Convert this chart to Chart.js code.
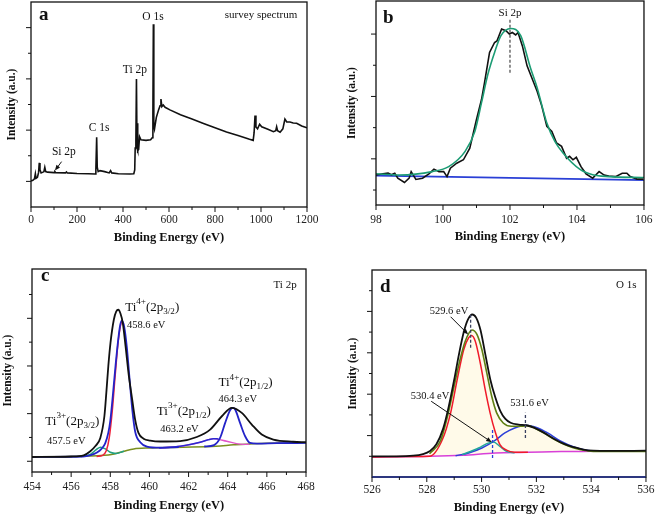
<!DOCTYPE html>
<html>
<head>
<meta charset="utf-8">
<script src="https://cdn.jsdelivr.net/npm/chart.js@4.4.1/dist/chart.umd.min.js"></script>
<style>
  body { margin: 0; background: #fff; }
  #fig { position: relative; width: 661px; height: 520px; }
  canvas { position: absolute; }
</style>
</head>
<body>
<div id="fig">
  <canvas id="pa" width="330" height="260" style="left:0;top:0"></canvas>
  <canvas id="pb" width="331" height="260" style="left:330px;top:0"></canvas>
  <canvas id="pc" width="330" height="260" style="left:0;top:260px"></canvas>
  <canvas id="pd" width="331" height="260" style="left:330px;top:260px"></canvas>
</div>
<script>
// ---- (a) survey spectrum: [binding energy eV, intensity a.u.]
const surveySpectrum = [
  [0,1.02],[8,1.04],[15,1.1],[19,1.3],[22,1.12],[28,1.16],[33,1.35],[36,1.72],[39,1.45],[44,1.33],
  [52,1.36],[56,1.38],[60,1.55],[64,1.38],[72,1.36],[100,1.34],[104,1.38],[108,1.34],[150,1.33],
  [154,1.37],[158,1.33],[200,1.31],[250,1.30],[279,1.29],[282,1.45],[285.5,2.72],[288,1.55],[292,1.38],
  [300,1.42],[320,1.38],[340,1.33],[346,1.42],[351,1.33],[380,1.30],[430,1.29],[447,1.30],[451,1.45],
  [453,2.3],[456,2.6],[458.5,4.99],[461,2.3],[463,3.27],[465,2.2],[468,2.25],[472,2.74],[478,2.62],
  [500,2.60],[520,2.62],[527,2.70],[530,3.6],[532,7.13],[534,3.2],[537,3.05],[545,3.5],[555,3.8],
  [561,3.95],[565,4.21],[569,3.92],[575,3.98],[583,3.89],[604,3.79],[650,3.60],[700,3.43],[750,3.26],
  [800,3.09],[850,2.93],[900,2.79],[950,2.64],[966,2.60],[970,2.9],[974,3.57],[978,3.12],[985,3.05],
  [994,3.23],[1003,3.13],[1030,3.03],[1054,2.94],[1064,2.98],[1068,3.13],[1072,2.98],[1083,2.92],
  [1095,3.05],[1104,3.43],[1112,3.32],[1126,3.32],[1140,3.28],[1155,3.27],[1177,3.16],[1196,3.10],[1200,3.09]
];
const aXMajor = [0, 200, 400, 600, 800, 1000, 1200];
const aXMinor = [100, 300, 500, 700, 900, 1100];
const aYMajor = [1, 3, 5, 7];
const aYMinor = [2, 4, 6];

// ---- (b) Si 2p
const siMeasured = [
  [98.00,0.48],[98.21,0.52],[98.36,0.54],[98.46,0.49],[98.56,0.54],[98.65,0.38],[98.85,0.24],[98.99,0.38],
  [99.05,0.59],[99.19,0.34],[99.39,0.38],[99.58,0.52],[99.73,0.67],[99.88,0.59],[100.02,0.59],[100.12,0.43],
  [100.22,0.70],[100.41,0.86],[100.61,0.97],[100.80,1.34],[101.00,2.26],[101.15,2.90],[101.24,3.44],
  [101.39,4.41],[101.54,4.73],[101.61,4.78],[101.75,5.16],[101.88,5.11],[101.98,5.00],[102.07,5.05],
  [102.17,4.97],[102.24,5.05],[102.37,4.62],[102.51,3.98],[102.71,3.44],[102.81,3.17],[102.95,2.69],
  [103.10,2.04],[103.25,1.88],[103.39,1.51],[103.54,1.40],[103.69,1.02],[103.78,1.08],[103.88,0.97],
  [103.98,1.05],[104.12,0.75],[104.27,0.52],[104.47,0.38],[104.56,0.48],[104.66,0.59],[104.81,0.48],
  [104.95,0.45],[105.15,0.43],[105.35,0.54],[105.49,0.54],[105.59,0.43],[105.79,0.35],[105.98,0.35]
];
const siFit = [
  [98.00,0.52],[98.70,0.48],[99.68,0.59],[100.17,0.75],[100.66,1.24],[100.95,1.88],[101.15,2.80],
  [101.34,3.71],[101.54,4.41],[101.73,4.95],[102.02,5.18],[102.32,4.95],[102.61,3.92],[102.81,3.28],
  [103.10,2.15],[103.34,1.56],[103.59,1.18],[104.08,0.67],[104.47,0.49],[104.95,0.43],[106.00,0.40]
];
const siBackground = [[98, 0.46], [106, 0.32]];
const bXMajor = [98, 100, 102, 104, 106];
const bXMinor = [99, 101, 103, 105];
const bYMajor = [1, 3, 5];
const bYMinor = [0, 2, 4];

// ---- (c) Ti 2p
const tiEnvelope = [
  [454,0.18],[456.0,0.20],[456.64,0.25],[456.98,0.42],[457.23,0.63],[457.49,0.98],[457.7,1.9],[457.8,2.9],
  [457.9,4.0],[458.01,4.97],[458.18,5.94],[458.30,6.28],[458.41,6.36],[458.52,6.2],[458.64,5.80],[458.78,4.83],
  [458.95,3.57],[459.12,2.59],[459.27,1.75],[459.44,1.19],[459.70,0.95],[460.04,0.87],[460.55,0.83],
  [461.57,0.85],[462.42,1.02],[463.10,1.33],[463.70,1.89],[464.21,2.24],[464.72,2.03],[465.23,1.54],
  [465.74,1.12],[466.33,0.91],[467.35,0.82],[468,0.80]
];
const ti4p32 = [
  [454,0.18],[456.6,0.20],[457.0,0.26],[457.32,0.37],[457.55,0.52],[457.74,0.75],[457.9,1.2],[458.0,1.7],
  [458.13,2.76],[458.27,4.03],[458.41,5.14],[458.51,5.73],[458.59,5.90],[458.71,5.65],[458.85,4.75],
  [458.98,3.5],[459.12,2.2],[459.27,1.25],[459.53,0.8],[459.87,0.62],[460.55,0.57],[461.5,0.59]
];
const ti4p12 = [
  [462.8,0.62],[463.3,0.68],[463.61,0.98],[463.87,1.61],[464.12,2.14],[464.26,2.24],[464.38,2.17],
  [464.63,1.61],[464.89,1.05],[465.14,0.77],[465.5,0.74],[466.5,0.76],[468,0.77]
];
const ti3p32 = [[456.5,0.20],[457.0,0.30],[457.3,0.50],[457.5,0.59],[457.75,0.52],[458.0,0.38],[458.3,0.33],[458.7,0.42]];
const ti3p32Red = [[457.3,0.20],[457.6,0.25],[457.8,0.45],[457.95,1.0],[458.1,2.1],[458.25,3.6],[458.4,5.0],[458.55,5.8],[458.6,5.88]];
const ti3p12 = [[460.5,0.56],[461.57,0.63],[462.59,0.80],[463.0,0.90],[463.27,0.95],[463.53,0.94]];
const ti3p12Tail = [[460.5,0.56],[461.6,0.63],[462.6,0.80],[463.27,0.95],[463.95,0.84],[464.63,0.72],[465.1,0.71]];
const tiShirley = [
  [454,0.18],[456.6,0.21],[457.5,0.24],[458.2,0.31],[458.7,0.42],[459.2,0.52],[460.0,0.56],[461.7,0.59],
  [463.4,0.63],[464.3,0.69],[465.3,0.74],[468,0.77]
];
const cXMajor = [454, 456, 458, 460, 462, 464, 466, 468];
const cXMinor = [455, 457, 459, 461, 463, 465, 467];
const cYMajor = [0, 2, 4, 6];
const cYMinor = [1, 3, 5, 7];

// ---- (d) O 1s
const oEnvelope = [
  [526.0,1.0],[526.9,1.0],[527.5,1.03],[527.86,1.11],[528.1,1.24],[528.35,1.58],[528.6,2.35],[528.8,3.4],
  [529.0,4.7],[529.17,5.9],[529.35,7.0],[529.5,7.6],[529.66,7.85],[529.8,7.7],[529.96,7.1],[530.14,5.9],
  [530.32,4.7],[530.5,3.85],[530.68,3.2],[530.86,2.82],[531.06,2.62],[531.35,2.53],[531.63,2.50],
  [531.93,2.37],[532.29,2.13],[532.65,1.84],[533.01,1.60],[533.37,1.44],[533.72,1.32],[534.08,1.27],
  [534.68,1.26],[536.0,1.27]
];
const oFitSum = [
  [528.1,1.12],[528.5,1.75],[528.75,2.9],[529.0,4.4],[529.2,5.6],[529.4,6.55],[529.65,7.10],[529.83,6.89],
  [530.01,6.16],[530.19,5.03],[530.37,3.90],[530.55,3.10],[530.79,2.61],[531.09,2.45],[531.45,2.45],
  [531.69,2.48],[531.93,2.37],[532.29,2.11],[532.65,1.82],[533.01,1.58],[533.37,1.40],[533.72,1.29],
  [534.08,1.24],[534.68,1.23],[536.0,1.24]
];
const oLattice = [
  [526.0,0.97],[527.5,0.99],[528.1,1.0],[528.57,1.81],[528.87,3.10],[529.11,4.71],[529.35,6.16],[529.53,6.73],
  [529.63,6.84],[529.77,6.56],[529.95,5.52],[530.13,4.23],[530.31,3.10],[530.49,2.21],[530.67,1.56],
  [530.91,1.30],[531.21,1.20],[531.69,1.19]
];
const oVacancy = [[529.29,1.08],[529.89,1.40],[530.19,1.61],[530.43,1.69],[530.67,1.48],[530.91,1.24],[531.21,1.17]];
const oHydroxyl = [
  [529.05,1.03],[529.53,1.16],[530.01,1.40],[530.49,1.77],[530.85,2.13],[531.21,2.37],[531.63,2.50],
  [532.05,2.37],[532.41,2.13],[532.89,1.73],[533.37,1.45],[533.84,1.29],[534.44,1.24],[535.28,1.24]
];
const oBackground = [[526,0.97],[528.1,1.0],[529.3,1.05],[530.5,1.16],[531.7,1.19],[532.9,1.23],[534.1,1.24],[536,1.26]];
const dXMajor = [526, 528, 530, 532, 534, 536];
const dXMinor = [527, 529, 531, 533, 535];
const dYMajor = [2, 4, 6, 8];
const dYMinor = [1, 3, 5, 7, 9];

const SERIF = '"Liberation Serif", "Times New Roman", serif';
const pts = arr => arr.map(p => ({ x: p[0], y: p[1] }));

function line(data, color, w, smooth, extra) {
  return Object.assign({
    data: pts(data), borderColor: color, borderWidth: w, pointRadius: 0, fill: false,
    tension: 0, cubicInterpolationMode: smooth ? 'monotone' : 'default'
  }, extra || {});
}

// text with ^{sup} and _{sub}
function richText(ctx, str, x, y, size, align, bold) {
  const parts = [];
  str.split(/(\^\{[^}]*\}|_\{[^}]*\})/).forEach(p => {
    if (!p) return;
    if (p[0] === '^') parts.push({ t: p.slice(2, -1), dy: -0.42, s: 0.7 });
    else if (p[0] === '_') parts.push({ t: p.slice(2, -1), dy: 0.3, s: 0.7 });
    else parts.push({ t: p, dy: 0, s: 1 });
  });
  const weight = bold ? 'bold ' : '';
  let w = 0;
  parts.forEach(p => { ctx.font = weight + (size * p.s) + 'px ' + SERIF; p.w = ctx.measureText(p.t).width; w += p.w; });
  let cx = align === 'center' ? x - w / 2 : x;
  ctx.textAlign = 'left';
  parts.forEach(p => {
    ctx.font = weight + (size * p.s) + 'px ' + SERIF;
    ctx.fillText(p.t, cx, y + p.dy * size);
    cx += p.w;
  });
}

function decor(o) {
  return {
    id: 'decor',
    afterDraw(chart) {
      const { ctx, chartArea: ca, scales: { x, y } } = chart;
      ctx.save();
      ctx.strokeStyle = '#111';
      ctx.lineWidth = 1.3;
      ctx.strokeRect(ca.left, ca.top, ca.right - ca.left, ca.bottom - ca.top);
      if (o.bottomColor) {
        ctx.strokeStyle = o.bottomColor;
        ctx.beginPath(); ctx.moveTo(ca.left, ca.bottom); ctx.lineTo(ca.right, ca.bottom); ctx.stroke();
        ctx.strokeStyle = '#111';
      }
      ctx.lineWidth = 1;
      ctx.beginPath();
      const xt = (v, len) => { const p = x.getPixelForValue(v); ctx.moveTo(p, ca.bottom); ctx.lineTo(p, ca.bottom + len); };
      const yt = (v, len) => { const p = y.getPixelForValue(v); ctx.moveTo(ca.left, p); ctx.lineTo(ca.left - len, p); };
      o.xMajor.forEach(v => xt(v, 5)); o.xMinor.forEach(v => xt(v, 3));
      o.yMajor.forEach(v => yt(v, 5)); o.yMinor.forEach(v => yt(v, 3));
      ctx.stroke();

      (o.dashes || []).forEach(d => {
        ctx.save();
        ctx.strokeStyle = d.color || '#444'; ctx.lineWidth = 1.3; ctx.setLineDash([3, 2]);
        const px = x.getPixelForValue(d.x);
        ctx.beginPath(); ctx.moveTo(px, y.getPixelForValue(d.y0)); ctx.lineTo(px, y.getPixelForValue(d.y1)); ctx.stroke();
        ctx.restore();
      });
      (o.arrows || []).forEach(a => {
        const x0 = x.getPixelForValue(a.from[0]), y0 = y.getPixelForValue(a.from[1]);
        const x1 = x.getPixelForValue(a.to[0]), y1 = y.getPixelForValue(a.to[1]);
        const ang = Math.atan2(y1 - y0, x1 - x0), hl = 6;
        ctx.strokeStyle = '#111'; ctx.fillStyle = '#111'; ctx.lineWidth = 1;
        ctx.beginPath(); ctx.moveTo(x0, y0); ctx.lineTo(x1 - Math.cos(ang) * 3, y1 - Math.sin(ang) * 3); ctx.stroke();
        ctx.beginPath(); ctx.moveTo(x1, y1);
        ctx.lineTo(x1 - hl * Math.cos(ang - 0.38), y1 - hl * Math.sin(ang - 0.38));
        ctx.lineTo(x1 - hl * Math.cos(ang + 0.38), y1 - hl * Math.sin(ang + 0.38));
        ctx.closePath(); ctx.fill();
      });

      ctx.fillStyle = '#111';
      ctx.textBaseline = 'alphabetic';
      ctx.font = 'bold 19px ' + SERIF;
      ctx.textAlign = 'left';
      ctx.fillText(o.letter, ca.left + o.letterAt[0], ca.top + o.letterAt[1]);
      ctx.textBaseline = 'middle';
      (o.labels || []).forEach(l => {
        richText(ctx, l.t, x.getPixelForValue(l.x), y.getPixelForValue(l.y), l.size, l.align || 'center');
      });
      ctx.restore();
    }
  };
}

function panel(id, o) {
  return new Chart(document.getElementById(id), {
    type: 'line',
    data: { datasets: o.datasets },
    options: {
      animation: false, responsive: false, devicePixelRatio: 1,
      layout: { padding: { top: o.top, right: o.right, left: 0, bottom: 0 } },
      plugins: { legend: { display: false }, tooltip: { enabled: false }, filler: { drawTime: 'beforeDatasetsDraw' } },
      scales: {
        x: {
          type: 'linear', min: o.xMin, max: o.xMax,
          afterBuildTicks: s => { s.ticks = o.xMajor.map(v => ({ value: v })); },
          afterFit: s => { s.height = o.bottom; },
          grid: { display: false, drawTicks: false }, border: { display: false },
          ticks: { padding: o.tickPad, color: '#222', font: { family: SERIF, size: 11.5 }, maxRotation: 0,
                   autoSkip: false, callback: v => String(v) },
          title: { display: true, text: 'Binding Energy (eV)', color: '#111',
                   font: { family: SERIF, size: 12.5, weight: 'bold' }, padding: { top: 0, bottom: o.xTitlePad } }
        },
        y: {
          type: 'linear', min: o.yMin, max: o.yMax,
          afterFit: s => { s.width = o.leftW; },
          grid: { display: false, drawTicks: false }, border: { display: false },
          ticks: { display: false },
          title: { display: true, text: 'Intensity (a.u.)', color: '#111',
                   font: { family: SERIF, size: 11.5, weight: 'bold' }, padding: { top: o.yTitlePad, bottom: 0 } }
        }
      }
    },
    plugins: [decor(o)]
  });
}

panel('pa', {
  xMin: 0, xMax: 1200, yMin: 0, yMax: 8, top: 2, right: 23, leftW: 31, bottom: 53,
  tickPad: 6.4, xTitlePad: 14.5, yTitlePad: 5,
  xMajor: aXMajor, xMinor: aXMinor, yMajor: aYMajor, yMinor: aYMinor,
  letter: 'a', letterAt: [8, 18],
  datasets: [line(surveySpectrum, '#111', 1.6, false)],
  labels: [
    { t: 'O 1s', x: 530, y: 7.41, size: 11.5 },
    { t: 'Ti 2p', x: 452, y: 5.35, size: 11.5 },
    { t: 'C 1s', x: 296, y: 3.08, size: 11.5 },
    { t: 'Si 2p', x: 143, y: 2.15, size: 11.5 },
    { t: 'survey spectrum', x: 1000, y: 7.49, size: 11 }
  ],
  arrows: [{ from: [133, 1.77], to: [104, 1.42] }]
});

panel('pb', {
  xMin: 98, xMax: 106, yMin: -0.48, yMax: 6.06, top: 1, right: 12, leftW: 46, bottom: 55,
  tickPad: 8.4, xTitlePad: 15.5, yTitlePad: 15,
  xMajor: bXMajor, xMinor: bXMinor, yMajor: bYMajor, yMinor: bYMinor,
  letter: 'b', letterAt: [7, 22],
  datasets: [
    line(siFit, '#1c9c74', 1.6, true),
    line(siMeasured, '#111', 1.6, false),
    line(siBackground, '#2a3fd6', 1.8, false)
  ],
  labels: [{ t: 'Si 2p', x: 102, y: 5.68, size: 11 }],
  dashes: [{ x: 102, y0: 3.76, y1: 5.48, color: '#555' }]
});

panel('pc', {
  xMin: 454, xMax: 468, yMin: -0.45, yMax: 8.07, top: 9, right: 24, leftW: 32, bottom: 48,
  tickPad: 8.4, xTitlePad: 6.5, yTitlePad: 1,
  xMajor: cXMajor, xMinor: cXMinor, yMajor: cYMajor, yMinor: cYMinor,
  letter: 'c', letterAt: [9, 12],
  datasets: [
    line(tiEnvelope, '#111', 1.8, true),
    line(ti4p12, '#2323c8', 1.8, true),
    line(ti4p32, '#2323c8', 1.8, true),
    line(ti3p12, '#2a2ad0', 1.5, true),
    line(ti3p32Red, '#f0203a', 1.5, true),
    line(ti3p32, '#1fa080', 1.5, true),
    line(ti3p12Tail, '#e055c8', 1.4, true),
    line(tiShirley, '#7a8f1f', 1.5, true)
  ],
  labels: [
    { t: 'Ti 2p', x: 466.93, y: 7.41, size: 11 },
    { t: 'Ti^{4+}(2p_{3/2})', x: 458.76, y: 6.46, size: 13, align: 'left' },
    { t: '458.6 eV', x: 458.85, y: 5.73, size: 10.5, align: 'left' },
    { t: 'Ti^{3+}(2p_{3/2})', x: 454.68, y: 1.68, size: 13, align: 'left' },
    { t: '457.5 eV', x: 454.77, y: 0.84, size: 10.5, align: 'left' },
    { t: 'Ti^{3+}(2p_{1/2})', x: 460.38, y: 2.10, size: 13, align: 'left' },
    { t: '463.2 eV', x: 460.55, y: 1.33, size: 10.5, align: 'left' },
    { t: 'Ti^{4+}(2p_{1/2})', x: 463.53, y: 3.29, size: 13, align: 'left' },
    { t: '464.3 eV', x: 463.53, y: 2.59, size: 10.5, align: 'left' }
  ]
});

panel('pd', {
  xMin: 526, xMax: 536, yMin: 0, yMax: 10, top: 10, right: 11, leftW: 42, bottom: 43,
  tickPad: 6.4, xTitlePad: 4.5, yTitlePad: 16, bottomColor: '#1c2a8a',
  xMajor: dXMajor, xMinor: dXMinor, yMajor: dYMajor, yMinor: dYMinor,
  letter: 'd', letterAt: [8, 22],
  datasets: [
    line(oEnvelope, '#111', 1.8, true),
    line(oFitSum, '#5f7f12', 1.6, true, { fill: { target: 5, above: 'rgba(255,246,215,0.55)' } }),
    line(oLattice, '#f01a2a', 1.5, true),
    line(oVacancy, '#23a79b', 1.5, true),
    line(oHydroxyl, '#2c3fd8', 1.5, true),
    line(oBackground, '#d840d8', 1.5, true)
  ],
  labels: [
    { t: '529.6 eV', x: 528.81, y: 8.02, size: 10.5 },
    { t: '530.4 eV', x: 528.12, y: 3.90, size: 10.5 },
    { t: '531.6 eV', x: 531.75, y: 3.58, size: 10.5 },
    { t: 'O 1s', x: 535.28, y: 9.26, size: 11 }
  ],
  dashes: [
    { x: 529.6, y0: 6.24, y1: 7.85, color: '#3a4160' },
    { x: 530.4, y0: 0.92, y1: 2.29, color: '#2c3fd8' },
    { x: 531.6, y0: 1.89, y1: 3.10, color: '#3a4160' }
  ],
  arrows: [
    { from: [528.87, 7.74], to: [529.51, 6.89] },
    { from: [528.16, 3.66], to: [530.37, 1.68] }
  ]
});
</script>
</body>
</html>
